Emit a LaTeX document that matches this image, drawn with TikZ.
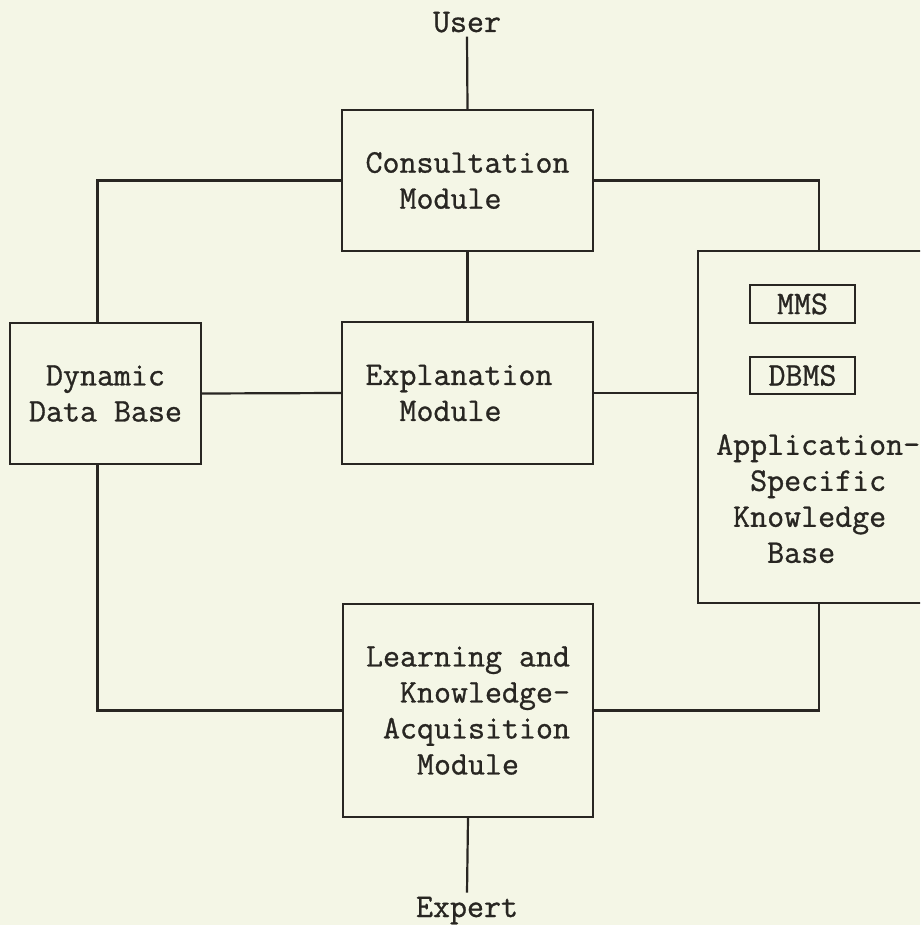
\documentclass[tikz,border=0pt]{standalone}
\usepackage{fontspec}
\newfontfamily\tw{Latin Modern Mono}[FakeBold=0.9]
\definecolor{bg}{RGB}{244,246,230}
\definecolor{ink}{RGB}{40,38,34}
\begin{document}
\begin{tikzpicture}[x=1pt,y=-1pt,
  every node/.style={font=\fontsize{33}{36}\selectfont\tw, text=ink},
  box/.style={draw=ink, line width=2.2pt, inner sep=0pt, align=left},
  conn/.style={draw=ink, line width=2.2pt},
  lbl/.style={inner sep=4pt}]
\useasboundingbox (0,0) rectangle (920,925);
\fill[bg] (0,0) rectangle (920,925);
\clip (0,0) rectangle (920,925);
% boxes
\node[box, minimum width=251pt, minimum height=141pt] (consult) at (467.5,180.5)
  {Consultation\\\phantom{xx}Module};
\node[box, minimum width=251pt, minimum height=142pt] (expl) at (467.5,393)
  {Explanation\phantom{x}\\\phantom{xx}Module};
\node[box, minimum width=191pt, minimum height=141pt] (dyn) at (105.5,393.5)
  {\phantom{x}Dynamic\\Data Base};
\node[box, minimum width=250pt, minimum height=213pt] (learn) at (468,710.5)
  {Learning and\\\phantom{xx}Knowledge-\\\phantom{x}Acquisition\\\phantom{xxx}Module};
\node[box, minimum width=242pt, minimum height=352pt] (akb) at (819,427) {};
\node[box, minimum width=105pt, minimum height=38pt, align=center] (mms) at (802.5,304) {MMS};
\node[box, minimum width=105pt, minimum height=37pt, align=center] (dbms) at (802.5,375.5) {DBMS};
\node[inner sep=0pt, anchor=north west, align=left] (akbtext) at (716,434)
  {Application-\\\phantom{xx}Specific\\\phantom{x}Knowledge\\\phantom{xxx}Base};
% external
\node[lbl, anchor=base] (user) at (467,32) {User};
\node[lbl, anchor=base] (expert) at (467,917) {Expert};
% connectors
\draw[conn] (user.south) -- (consult.north);
\draw[conn] (consult.south) -- (expl.north);
\draw[conn] (learn.south) -- (expert.north);
\draw[conn] (consult.west) -| ([xshift=-8pt]dyn.north);
\draw[conn] (consult.east) -| (akb.north);
\draw[conn] (dyn.east) -- (expl.west);
\draw[conn] (expl.east) -- (expl.east -| akb.west);
\draw[conn] ([xshift=-8pt]dyn.south) |- (learn.west);
\draw[conn] (learn.east) -| (akb.south);
\end{tikzpicture}
\end{document}
